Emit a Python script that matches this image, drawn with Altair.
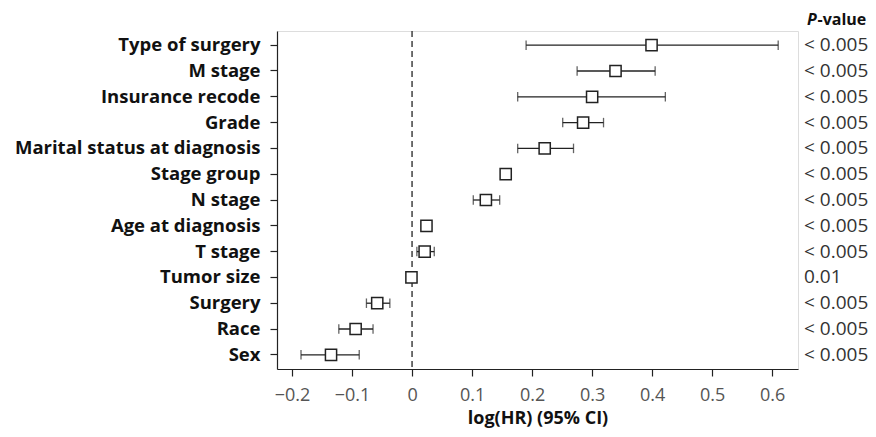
import altair as alt
import pandas as pd

variables = ["Type of surgery", "M stage", "Insurance recode", "Grade",
             "Marital status at diagnosis", "Stage group", "N stage",
             "Age at diagnosis", "T stage", "Tumor size", "Surgery", "Race", "Sex"]
estimate = [0.399, 0.339, 0.300, 0.285, 0.221, 0.156, 0.123, 0.024, 0.021, -0.001, -0.058, -0.094, -0.135]
lower = [0.190, 0.275, 0.176, 0.251, 0.176, 0.150, 0.102, 0.021, 0.008, -0.003, -0.076, -0.122, -0.185]
upper = [0.610, 0.405, 0.422, 0.319, 0.269, 0.165, 0.146, 0.029, 0.037, 0.001, -0.037, -0.065, -0.088]
pvalues = ["< 0.005"] * 9 + ["0.01"] + ["< 0.005"] * 3
x_ticks = [-0.2, -0.1, 0, 0.1, 0.2, 0.3, 0.4, 0.5, 0.6]

df = pd.DataFrame({"variable": variables, "est": estimate, "lo": lower,
                   "hi": upper, "p": pvalues})

FONT = "Open Sans"
INK = "#222222"
W, H = 521, 338

xscale = alt.Scale(domain=[-0.225, 0.643], nice=False, zero=False)
yscale = alt.Scale(type="band", paddingInner=0, paddingOuter=0.05)
yenc = alt.Y("variable:N", sort=variables, scale=yscale,
             axis=alt.Axis(title=None, labelFont=FONT, labelFontWeight="bold",
                           labelFontSize=18.5, labelColor="#111", labelPadding=10,
                           labelLimit=400,
                           tickSize=7, tickColor=INK, domainColor=INK,
                           tickWidth=1.2, domainWidth=1.2))
ysimple = alt.Y("variable:N", sort=variables, scale=yscale)

base = alt.Chart(df)

ref = alt.Chart(pd.DataFrame({"x": [0]})).mark_rule(
    color="#333", strokeDash=[6, 4], strokeWidth=1.4
).encode(x=alt.X("x:Q", scale=xscale))

bars = base.mark_rule(color=INK, strokeWidth=1.3).encode(
    x=alt.X("lo:Q", scale=xscale,
            axis=alt.Axis(values=x_ticks, format="~g", title="log(HR) (95% CI)",
                          titleFont=FONT, titleFontWeight="bold", titleFontSize=18,
                          titleColor="#111", titlePadding=5,
                          labelFont=FONT, labelFontSize=18, labelColor="#555",
                          labelPadding=10, tickSize=7, tickColor=INK, tickWidth=1.2,
                          domainColor=INK, domainWidth=1.2, grid=False)),
    x2="hi:Q",
    y=yenc,
)

cap_lo = base.mark_tick(color=INK, thickness=1.3, size=9.5, orient="vertical").encode(
    x=alt.X("lo:Q", scale=xscale), y=ysimple)
cap_hi = base.mark_tick(color=INK, thickness=1.3, size=9.5, orient="vertical").encode(
    x=alt.X("hi:Q", scale=xscale), y=ysimple)

pts = base.mark_point(shape="square", size=125, filled=True, fill="white",
                      stroke=INK, strokeWidth=1.5, opacity=1).encode(
    x=alt.X("est:Q", scale=xscale), y=ysimple)

ptext = base.mark_text(align="left", baseline="middle", font=FONT, fontSize=19,
                       color="#333").encode(
    x=alt.value(W + 6), y=ysimple, text="p:N")

hdr_p = alt.Chart(pd.DataFrame({"t": ["P"]})).mark_text(
    align="left", baseline="alphabetic", font=FONT, fontSize=16, fontWeight="bold",
    fontStyle="italic", color="#111").encode(
    x=alt.value(W + 9), y=alt.value(-6), text="t:N")
hdr_v = alt.Chart(pd.DataFrame({"t": ["-value"]})).mark_text(
    align="left", baseline="alphabetic", font=FONT, fontSize=16, fontWeight="bold",
    color="#111").encode(
    x=alt.value(W + 19.5), y=alt.value(-6), text="t:N")

chart = alt.layer(ref, bars, cap_lo, cap_hi, pts, ptext, hdr_p, hdr_v).properties(
    width=W, height=H,
    autosize=alt.AutoSizeParams(type="none"),
    padding={"left": 269, "top": 23, "right": 70, "bottom": 60},
).configure_view(stroke=INK, strokeWidth=1.2).configure(background="white")

chart.save("out.html", embed_options={"renderer": "svg", "actions": False})
